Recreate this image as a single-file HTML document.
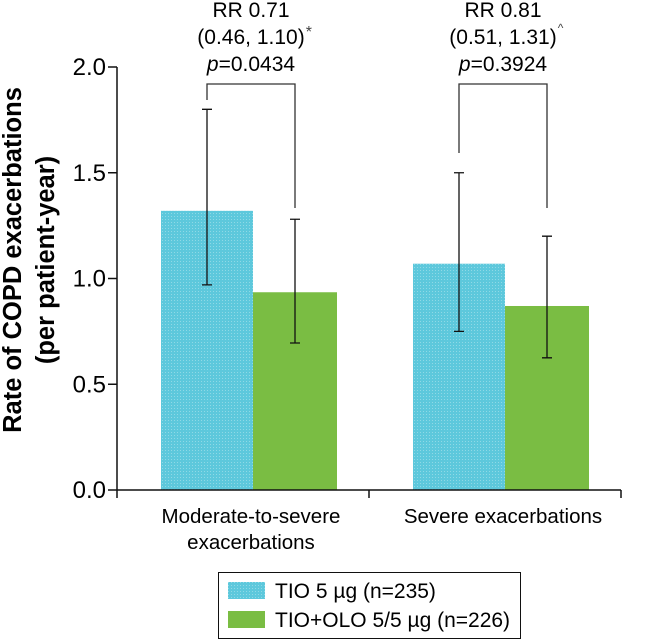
<!DOCTYPE html>
<html><head><meta charset="utf-8"><style>
html,body{margin:0;padding:0;background:#fff;}
svg{display:block;font-family:"Liberation Sans",sans-serif;}
</style></head><body>
<svg id="chart" width="651" height="640">
<defs>
<pattern id="dots" width="3" height="3" patternUnits="userSpaceOnUse">
<rect width="3" height="3" fill="#5dc8dc"/><rect width="1" height="1" fill="#8fd9e6"/>
</pattern>
</defs>
<g id="plot"></g>
</svg>
<script>
const categories = ["Moderate-to-severe|exacerbations", "Severe exacerbations"];
const tioValues = [1.32, 1.07];
const tioOloValues = [0.935, 0.87];
const tioLow = [0.97, 0.75];
const tioHigh = [1.80, 1.50];
const oloLow = [0.695, 0.625];
const oloHigh = [1.28, 1.20];
const yTicks = [0.0, 0.5, 1.0, 1.5, 2.0];
const rrLabels = ["RR 0.71", "RR 0.81"];
const ciLabels = ["(0.46, 1.10)", "(0.51, 1.31)"];
const ciMarks = ["*", "^"];
const pLabels = ["=0.0434", "=0.3924"];

const NS = "http://www.w3.org/2000/svg";
const g = document.getElementById("plot");
const x0 = 117, x1 = 621, yBase = 490, yTop = 67;
const y = v => yBase - (v / 2.0) * (yBase - yTop);
const groupW = (x1 - x0) / categories.length;
const gx = i => x0 + groupW * i;
function el(tag, attrs, text) {
  const e = document.createElementNS(NS, tag);
  for (const k in attrs) e.setAttribute(k, attrs[k]);
  if (text !== undefined) e.textContent = text;
  g.appendChild(e);
  return e;
}
categories.forEach((c, i) => {
  const b = gx(i) + 44;
  const bw1 = 92, bw2 = 84;
  const r1 = el("rect", {x: b, y: y(tioValues[i]), width: bw1, height: yBase - y(tioValues[i]), fill: "url(#dots)"});
  
  
  const r2 = el("rect", {x: b + bw1, y: y(tioOloValues[i]), width: bw2, height: yBase - y(tioOloValues[i]), fill: "#7abd43"});
  
  
  const ex1 = b + 46, ex2 = b + bw1 + 42;
  [[ex1, tioLow[i], tioHigh[i]], [ex2, oloLow[i], oloHigh[i]]].forEach(([ex, lo, hi]) => {
    const eb = el("path", {d: `M${ex},${y(lo)}V${y(hi)}M${ex-5},${y(lo)}H${ex+5}M${ex-5},${y(hi)}H${ex+5}`, stroke: "#111", "stroke-width": 1.3, fill: "none"});
    
    
  });
  const bTop = 84;
  const br = el("path", {d: `M${ex1},${i === 0 ? 100 : 153}V${bTop}H${ex2}V208`, stroke: "#333", "stroke-width": 1.3, fill: "none"});
  
  
  const cx = b + 90;
  const t1 = el("text", {x: cx, y: 17, "text-anchor": "middle", "font-size": 21}, rrLabels[i]);
  
  
  const t2 = el("text", {x: cx, y: 44, "text-anchor": "middle", "font-size": 21}, ciLabels[i]);
  
  
  const bb = t2.getBBox();
  const t2m = el("text", {x: bb.x + bb.width + 1, y: i === 0 ? 37 : 32, "font-size": i === 0 ? 16 : 12, fill: "#444"}, ciMarks[i]);
  
  
  const t3 = el("text", {x: cx, y: 71, "text-anchor": "middle", "font-size": 21});
  
  
  const ts = document.createElementNS(NS, "tspan"); ts.setAttribute("font-style", "italic"); ts.textContent = "p"; t3.appendChild(ts);
  t3.appendChild(document.createTextNode(pLabels[i]));
  const lines = c.split("|");
  lines.forEach((ln, j) => {
    const cl = el("text", {x: cx, y: 523 + j * 26, "text-anchor": "middle", "font-size": 20.5}, ln);
    
    
  });
});
const ax = el("path", {d: `M${x0},${yTop}V${yBase}H${x1}M${x0},${yBase}V498M${gx(1)},${yBase}V498M${x1},${yBase}V498`, stroke: "#111", "stroke-width": 1.5, fill: "none"});


yTicks.forEach(v => {
  const tk = el("path", {d: `M108,${y(v)}H${x0}`, stroke: "#111", "stroke-width": 1.5});
  
  
  const tl = el("text", {x: 106, y: y(v) + 8, "text-anchor": "end", "font-size": 24}, v.toFixed(1));
  
  
});
const yt = el("text", {x: 0, y: 0, "text-anchor": "middle", "font-size": 25.5, "font-weight": "bold", transform: "translate(21,260) rotate(-90)"}, "Rate of COPD exacerbations");


const yt2 = el("text", {x: 0, y: 0, "text-anchor": "middle", "font-size": 25.5, "font-weight": "bold", transform: "translate(54,260) rotate(-90)"}, "(per patient-year)");


const lb = el("rect", {x: 218.5, y: 572.5, width: 302, height: 66, fill: "#fff", stroke: "#111", "stroke-width": 1});


const s1 = el("rect", {x: 228, y: 582, width: 37, height: 17, fill: "url(#dots)"});


const s2 = el("rect", {x: 228, y: 611, width: 37, height: 17, fill: "#7abd43"});


const l1 = el("text", {x: 275, y: 598, "font-size": 21}, "TIO 5 µg (n=235)");


const l2 = el("text", {x: 275, y: 627, "font-size": 21}, "TIO+OLO 5/5 µg (n=226)");


</script>
</body></html>
